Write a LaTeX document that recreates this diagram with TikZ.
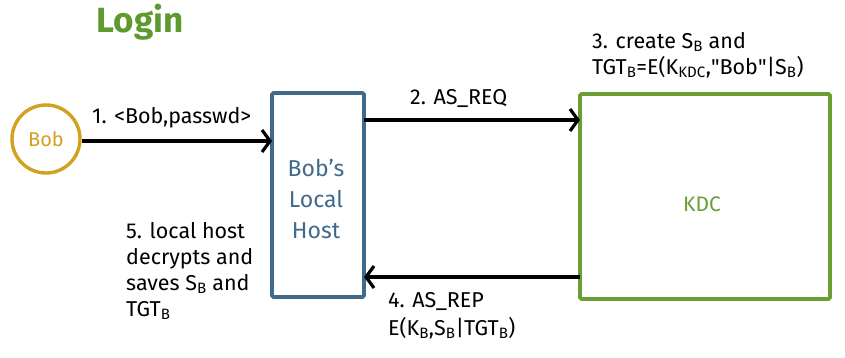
\documentclass[tikz,border=0pt]{standalone}
\usepackage{fontspec}
\setmainfont{Fira Sans}
\usetikzlibrary{arrows.meta}
\definecolor{loginGreen}{HTML}{5E9A2E}
\definecolor{kdcGreen}{HTML}{6A9E34}
\definecolor{hostBlue}{HTML}{41698A}
\definecolor{bobGold}{HTML}{D3A020}
\tikzset{
  msg/.style={line width=3.2pt, -{Straight Barb[length=8pt,width=22pt,line width=3.2pt]}},
  lbl/.style={font=\fontsize{21.5}{26}\selectfont, align=left, inner sep=0pt, text=black},
  boxline/.style={line width=3.6pt, rounded corners=1.5pt},
}
\begin{document}
\begin{tikzpicture}[x=1pt,y=-1pt]
  \useasboundingbox (0,0) rectangle (845,358);

  % title
  \node[text=loginGreen, font=\fontsize{35}{40}\selectfont\bfseries] (title) at (140,22) {Login};

  % participants
  \node[circle, draw=bobGold, line width=3.4pt, minimum size=68pt, text=bobGold,
        font=\fontsize{20}{22}\selectfont] (bob) at (46,139) {Bob};
  \draw[boxline, draw=hostBlue] (272,93) rectangle (364,297);
  \node[text=hostBlue, align=center, font=\fontsize{23}{31}\selectfont] (host) at (316,199) {Bob's\\Local\\Host};
  \coordinate (hostW) at (272,141);
  \coordinate (hostE1) at (364,120);
  \coordinate (hostE4) at (364,277);
  \draw[boxline, draw=kdcGreen] (580,94) rectangle (830,299);
  \node[text=kdcGreen, font=\fontsize{21}{24}\selectfont] (kdc) at (702,204) {KDC};
  \coordinate (kdcW1) at (580,120);
  \coordinate (kdcW4) at (580,277);

  % messages
  \draw[msg] (bob.east |- hostW) -- (hostW);
  \draw[msg] (hostE1) -- (kdcW1);
  \draw[msg] (kdcW4) -- (hostE4);

  % labels
  \node[lbl, anchor=base west] (m1) at (92,124) {1. <Bob,passwd>};
  \node[lbl, anchor=base west] (m2) at (410,105) {2. AS\_REQ};
  \node[lbl, anchor=north west] (m3) at (592,32)
    {3. create S\textsubscript{B} and\\TGT\textsubscript{B}=E(K\textsubscript{KDC},\textquotedbl Bob\textquotedbl|S\textsubscript{B})};
  \node[lbl, anchor=north west, font=\fontsize{21.5}{28}\selectfont] (m4) at (388,292)
    {4. AS\_REP\\E(K\textsubscript{B},S\textsubscript{B}|TGT\textsubscript{B})};
  \node[lbl, anchor=north west] (m5) at (126,222)
    {5. local host\\decrypts and\\saves S\textsubscript{B} and\\TGT\textsubscript{B}};
\end{tikzpicture}
\end{document}
